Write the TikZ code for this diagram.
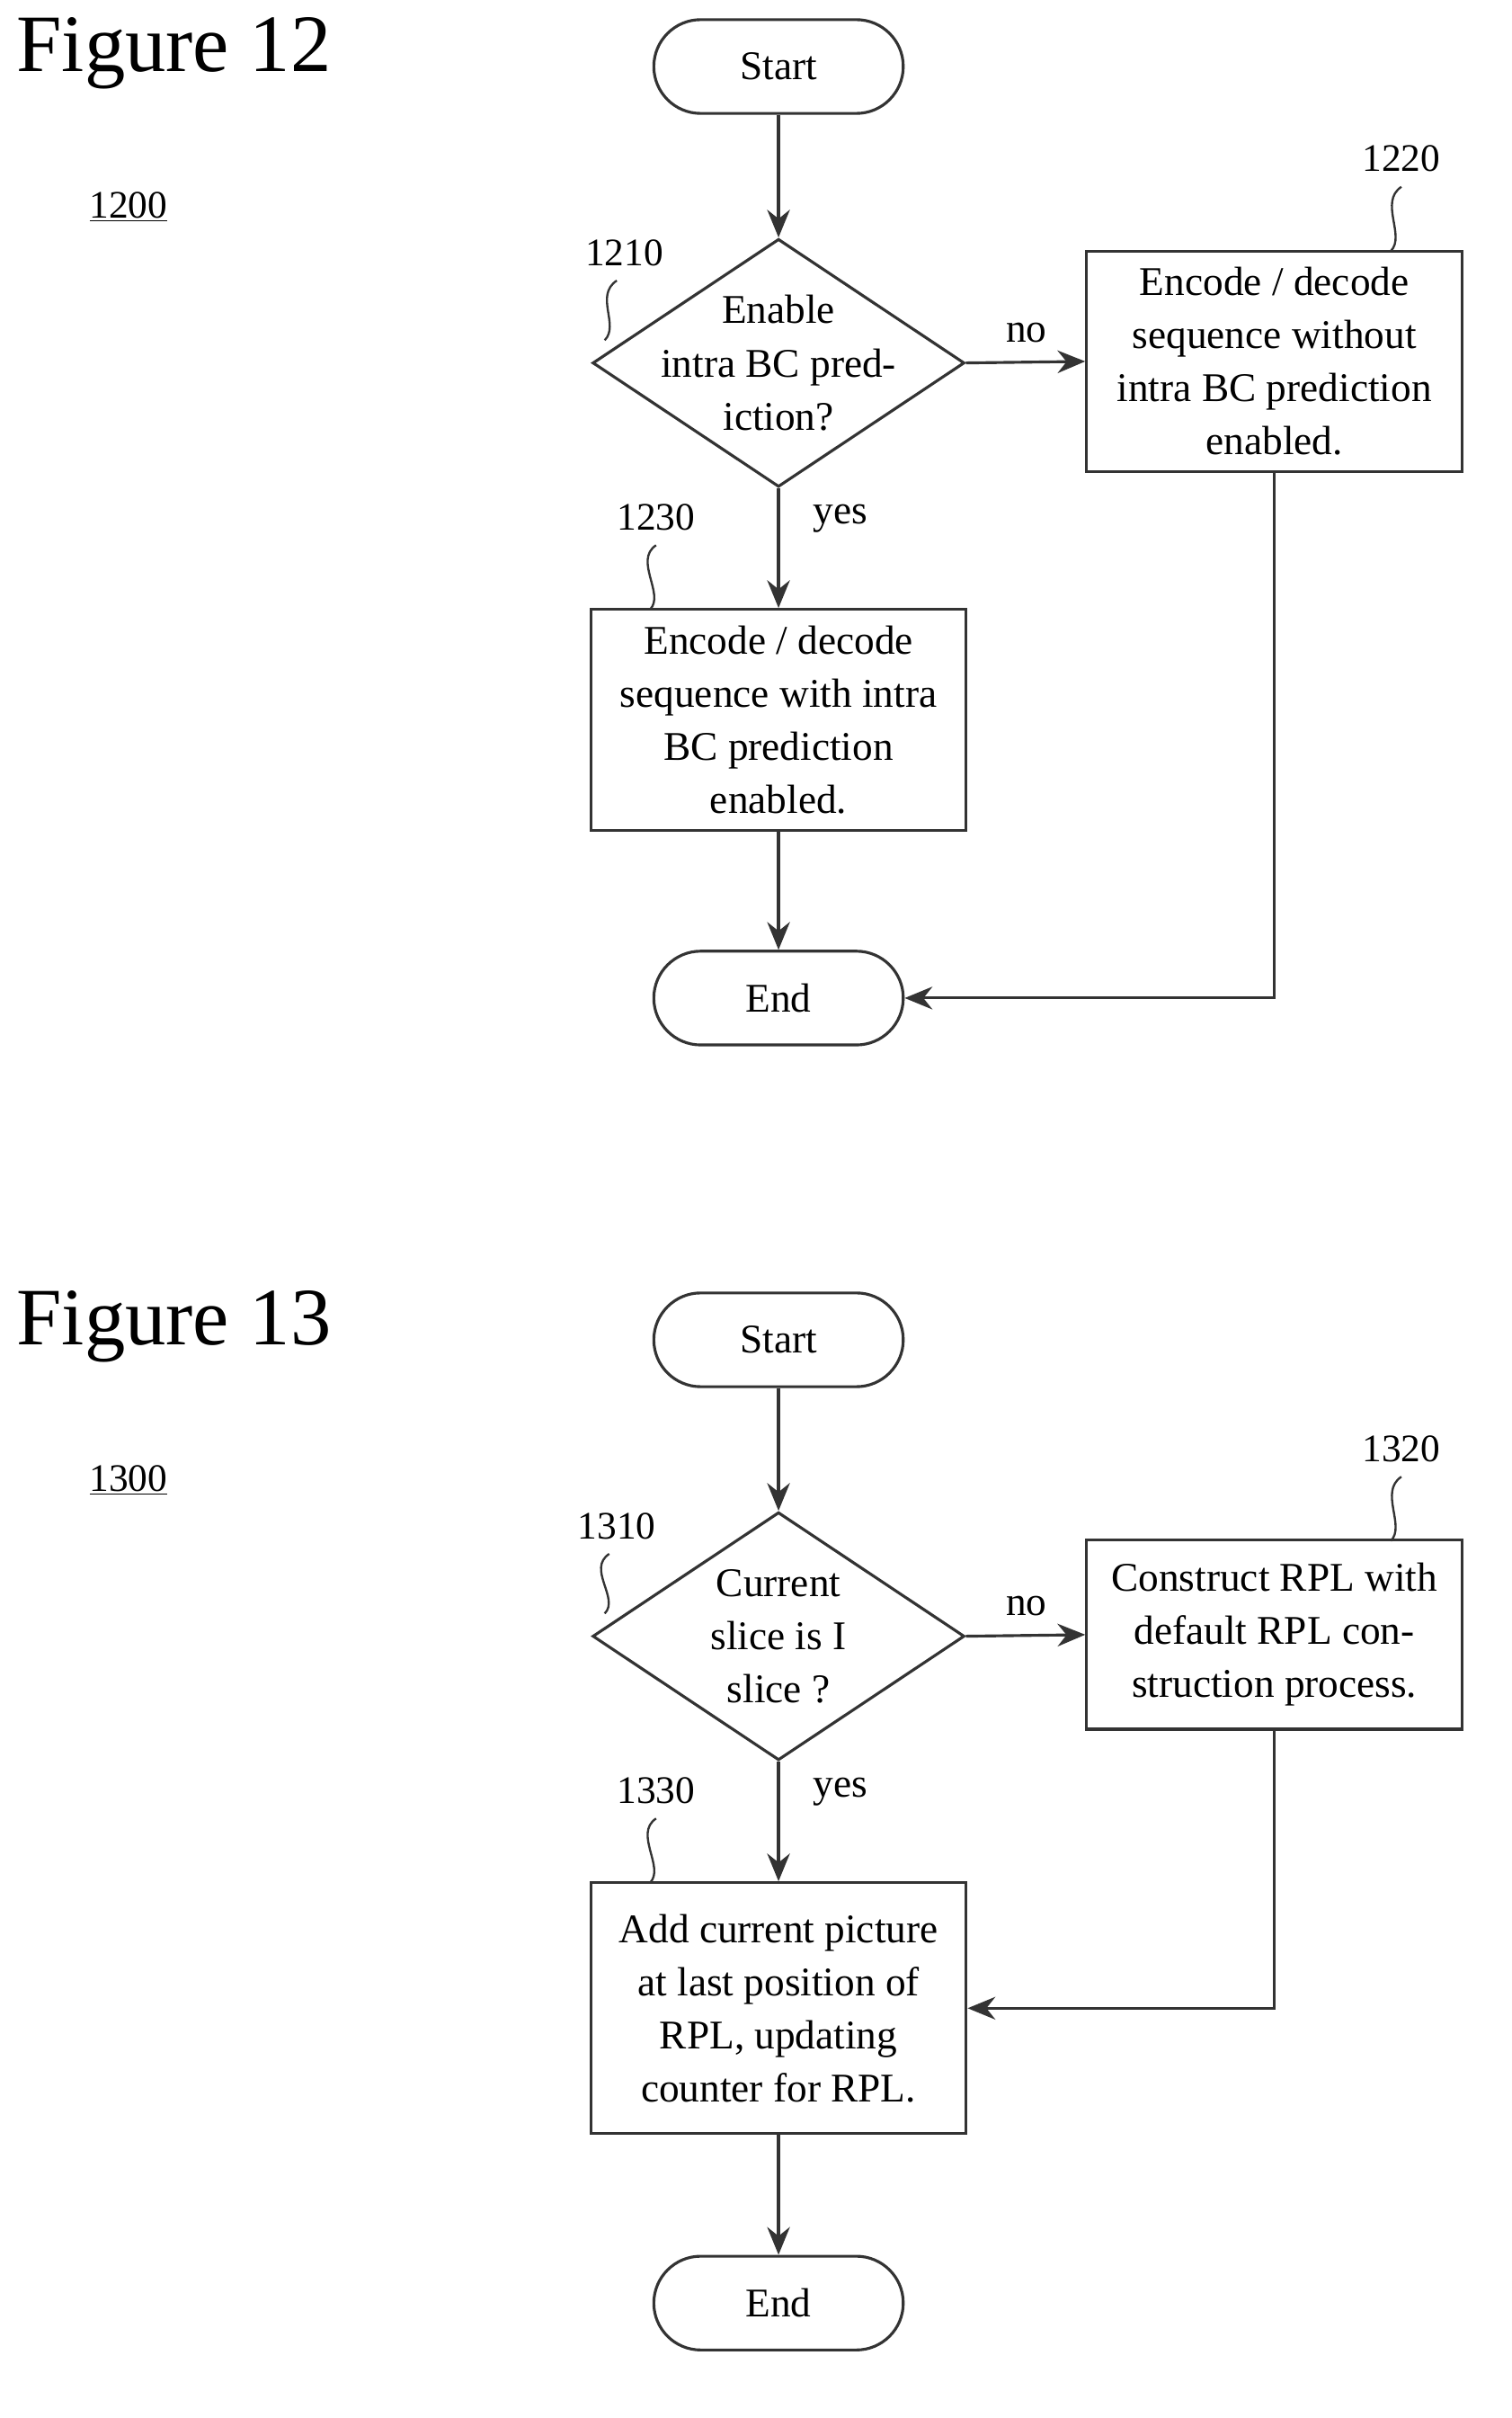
\documentclass[tikz,border=0pt]{standalone}
\usepackage{fontspec}
\setmainfont{Liberation Serif}
\usetikzlibrary{shapes.geometric,arrows.meta}
\begin{document}
\begin{tikzpicture}[x=0.03cm,y=-0.03cm,
  line width=1.6pt, draw=black!80,
  every node/.style={font=\fontsize{23}{30}\selectfont},
  term/.style={draw,rounded corners=0.93cm,minimum width=4.95cm,minimum height=1.86cm},
  box/.style={draw,minimum width=7.45cm,align=center,inner sep=0},
  dia/.style={draw,diamond,aspect=1.5,minimum width=7.38cm,minimum height=4.92cm,inner sep=0},
  arr/.style={-{Stealth[length=0.55cm,width=0.45cm]}},
  lab/.style={font=\fontsize{22}{26}\selectfont},
  sq/.style={line width=1.2pt}]
\useasboundingbox (0,0) rectangle (1000,1599);
% Figure 12
\node[font=\fontsize{46}{50}\selectfont] (f12) at (115,35) {Figure 12};
\node[lab] (n1200) at (85,137) {\underline{1200}};
\node[term] (s1) at (515,44) {Start};
\node[dia] (d1) at (515,240) {};
\node[align=center] (t1) at (515,240) {Enable\\intra BC pred-\\iction?};
\node[box,minimum height=4.38cm] (b1220) at (843,239) {Encode / decode\\sequence without\\intra BC prediction\\enabled.};
\node[box,minimum height=4.38cm] (b1230) at (515,476) {Encode / decode\\sequence with intra\\BC prediction\\enabled.};
\node[term] (e1) at (515,660) {End};
\node[lab] (l1210) at (413,167) {1210};
\node[lab] (l1220) at (927,105) {1220};
\node[lab] (l1230) at (434,342) {1230};
\node (no1) at (679,220) {no};
\node (yes1) at (556,343) {yes};
\draw[arr] (s1) -- (d1);
\draw[arr] (d1.east) -- (b1220.west);
\draw[arr] (d1.south) -- (b1230.north);
\draw[arr] (b1230) -- (e1);
\draw[arr] (b1220.south) |- (e1.east);
\draw[sq] (l1210.south) ++(-5,5) .. controls +(-15,10) and +(10,-10) .. (400,225);
\draw[sq] (l1220.south) ++(0,5) .. controls +(-15,10) and +(10,-10) .. (920,166);
\draw[sq] (l1230.south) ++(0,5) .. controls +(-15,10) and +(10,-10) .. (430,403);
% Figure 13
\node[font=\fontsize{46}{50}\selectfont] (f13) at (115,877) {Figure 13};
\node[lab] (n1300) at (85,979) {\underline{1300}};
\node[term] (s2) at (515,886) {Start};
\node[dia] (d2) at (515,1082) {};
\node[align=center] (t2) at (515,1082) {Current\\slice is I\\slice ?};
\node[box,minimum height=3.75cm] (b1320) at (843,1081) {Construct RPL with\\default RPL con-\\struction process.};
\node[box,minimum height=4.98cm] (b1330) at (515,1328) {Add current picture\\at last position of\\RPL, updating\\counter for RPL.};
\node[term] (e2) at (515,1523) {End};
\node[lab] (l1310) at (408,1009) {1310};
\node[lab] (l1320) at (927,958) {1320};
\node[lab] (l1330) at (434,1184) {1330};
\node (no2) at (679,1062) {no};
\node (yes2) at (556,1185) {yes};
\draw[arr] (s2) -- (d2);
\draw[arr] (d2.east) -- (b1320.west);
\draw[arr] (d2.south) -- (b1330.north);
\draw[arr] (b1330) -- (e2);
\draw[arr] (b1320.south) |- (b1330.east);
\draw[sq] (l1310.south) ++(-5,5) .. controls +(-15,10) and +(10,-10) .. (400,1067);
\draw[sq] (l1320.south) ++(0,5) .. controls +(-15,10) and +(10,-10) .. (920,1019);
\draw[sq] (l1330.south) ++(0,5) .. controls +(-15,10) and +(10,-10) .. (430,1245);
\end{tikzpicture}
\end{document}
